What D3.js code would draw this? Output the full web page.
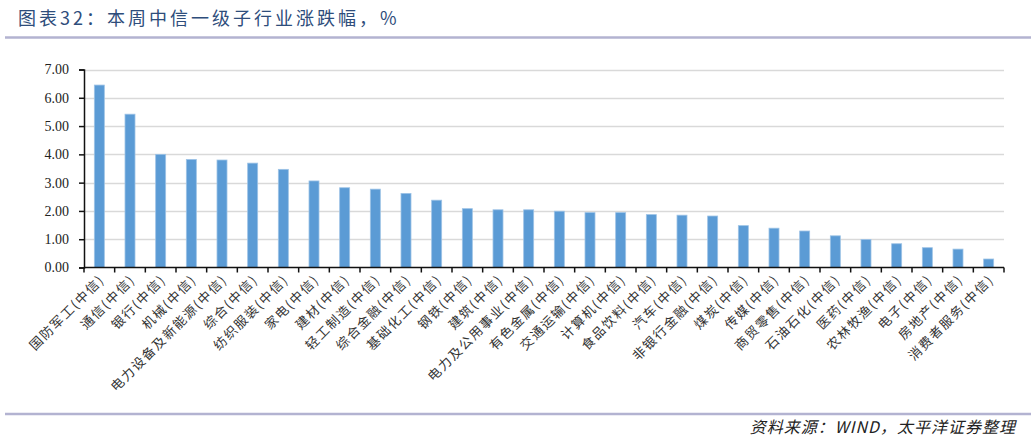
<!DOCTYPE html>
<html>
<head>
<meta charset="utf-8">
<script src="https://cdn.jsdelivr.net/npm/d3@7"></script>
<style>
  body { margin: 0; background: #fff; }
  svg { display: block; }
  .title { font-family: "Noto Sans CJK SC", sans-serif; font-size: 18px; fill: #2e4d7b; letter-spacing: 3px; }
  .ylab text { font-family: "Liberation Serif", "DejaVu Serif", serif; font-size: 14px; fill: #222; }
  .xlab text { font-family: "Noto Sans CJK SC", sans-serif; font-size: 13px; fill: #333; letter-spacing: 1.6px; }
  .source { font-family: "Noto Sans CJK SC", sans-serif; font-size: 16px; fill: #222; font-style: italic; letter-spacing: 1px; }
</style>
</head>
<body>
<div id="chart"></div>
<script>
// industries (CITIC level-1), weekly change %
var industries = ["国防军工(中信)", "通信(中信)", "银行(中信)", "机械(中信)", "电力设备及新能源(中信)",
  "综合(中信)", "纺织服装(中信)", "家电(中信)", "建材(中信)", "轻工制造(中信)",
  "综合金融(中信)", "基础化工(中信)", "钢铁(中信)", "建筑(中信)", "电力及公用事业(中信)",
  "有色金属(中信)", "交通运输(中信)", "计算机(中信)", "食品饮料(中信)", "汽车(中信)",
  "非银行金融(中信)", "煤炭(中信)", "传媒(中信)", "商贸零售(中信)", "石油石化(中信)",
  "医药(中信)", "农林牧渔(中信)", "电子(中信)", "房地产(中信)", "消费者服务(中信)"];
var changes = [6.45, 5.42, 4.00, 3.82, 3.80,
  3.69, 3.47, 3.06, 2.82, 2.77,
  2.62, 2.38, 2.08, 2.04, 2.04,
  1.99, 1.94, 1.94, 1.87, 1.85,
  1.82, 1.48, 1.39, 1.29, 1.12,
  0.99, 0.84, 0.70, 0.65, 0.30];
var yTicks = [0, 1, 2, 3, 4, 5, 6, 7];

var w = 1031, h = 441;
var mLeft = 84, mRight = 1004, mTop = 69.5, mBottom = 267.5;

var svg = d3.select("#chart").append("svg").attr("width", w).attr("height", h);

// title + rules
svg.append("text").attr("class", "title").attr("x", 18).attr("y", 25)
  .text("图表32：本周中信一级子行业涨跌幅，%");
svg.append("line").attr("x1", 5).attr("x2", w).attr("y1", 37.5).attr("y2", 37.5)
  .style("stroke", "#b3b3d1").style("stroke-width", 2.5);
svg.append("line").attr("x1", 5).attr("x2", w).attr("y1", 414).attr("y2", 414)
  .style("stroke", "#b3b3d1").style("stroke-width", 2.5);
svg.append("text").attr("class", "source").attr("x", 1016).attr("y", 433)
  .attr("text-anchor", "end").text("资料来源：WIND，太平洋证券整理");

var x = d3.scaleBand().domain(industries).range([mLeft, mRight]);
var y = d3.scaleLinear().domain([0, 7]).range([mBottom, mTop]);

// gridlines
svg.append("g").selectAll("line").data(yTicks.slice(1)).enter().append("line")
  .attr("x1", mLeft).attr("x2", mRight)
  .attr("y1", d => Math.round(y(d)) + 0.5).attr("y2", d => Math.round(y(d)) + 0.5)
  .style("stroke", "#d9d9d9").style("stroke-width", 1.5);

// bars
var bw = 10;
svg.append("g").selectAll("rect").data(changes).enter().append("rect")
  .attr("x", (d, i) => x(industries[i]) + x.bandwidth() / 2 - bw / 2)
  .attr("y", d => y(d))
  .attr("width", bw)
  .attr("height", d => y(0) - y(d))
  .style("fill", "#5b9bd5")
  .style("stroke", "#9dc3e6").style("stroke-width", 0.8);

// y axis
var yAxis = d3.axisLeft(y).tickValues(yTicks).tickFormat(d3.format(".2f")).tickSizeOuter(0).tickSize(5).tickPadding(10);
var gy = svg.append("g").attr("class", "ylab").attr("transform", "translate(" + mLeft + ",0)").call(yAxis);
gy.select(".domain").style("stroke", "#111").style("stroke-width", 1.5);
gy.selectAll(".tick line").style("stroke", "#111").style("stroke-width", 1.5);

// x axis: ticks at band edges
var gx = svg.append("g").attr("class", "xlab");
gx.append("line").attr("x1", mLeft).attr("x2", mRight).attr("y1", mBottom).attr("y2", mBottom)
  .style("stroke", "#111").style("stroke-width", 1.5);
var edges = industries.map(d => x(d)).concat([mRight]);
gx.selectAll("line.tk").data(edges).enter().append("line").attr("class", "tk")
  .attr("x1", d => d).attr("x2", d => d).attr("y1", mBottom).attr("y2", mBottom + 5)
  .style("stroke", "#111").style("stroke-width", 1.5);
gx.selectAll("text").data(industries).enter().append("text")
  .attr("text-anchor", "end")
  .attr("transform", d => "translate(" + (x(d) + x.bandwidth() / 2 + 6) + "," + (mBottom + 13) + ") rotate(-45)")
  .text(d => d);
</script>
</body>
</html>
